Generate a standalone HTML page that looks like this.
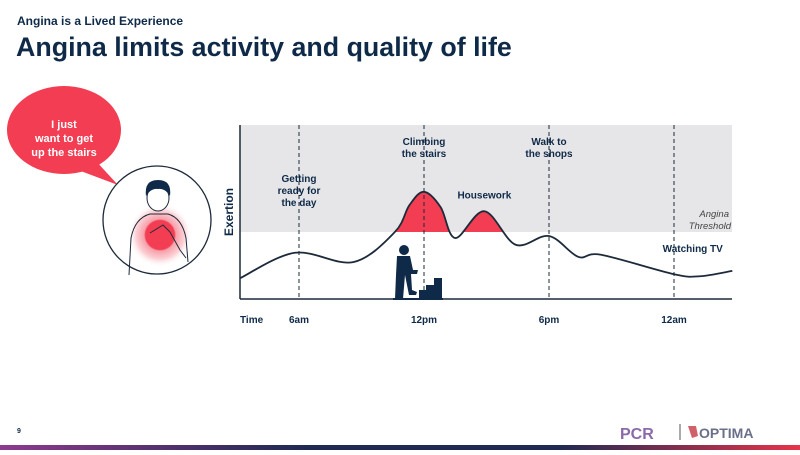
<!DOCTYPE html>
<html><head><meta charset="utf-8">
<style>
html,body{margin:0;padding:0;background:#fff;}
body{width:800px;height:450px;position:relative;overflow:hidden;font-family:"Liberation Sans",sans-serif;}
svg text{font-family:"Liberation Sans",sans-serif;}
</style></head>
<body>
<svg id="c" width="800" height="450" viewBox="0 0 800 450">
  <defs>
    <linearGradient id="bar" x1="0" x2="1" y1="0" y2="0">
      <stop offset="0" stop-color="#8e3a8e"/>
      <stop offset="0.38" stop-color="#1f2a52"/>
      <stop offset="0.7" stop-color="#1f2a52"/>
      <stop offset="1" stop-color="#e8334a"/>
    </linearGradient>
    <radialGradient id="glow">
      <stop offset="0" stop-color="#f23d52"/>
      <stop offset="0.45" stop-color="#f23d52"/>
      <stop offset="0.5" stop-color="#f7a0aa"/>
      <stop offset="0.75" stop-color="#fbd0d5"/>
      <stop offset="1" stop-color="#fff" stop-opacity="0"/>
    </radialGradient>
    <clipPath id="above"><rect x="240" y="125" width="492" height="107"/></clipPath>
  </defs>
  <text x="17" y="25" font-size="12" font-weight="bold" fill="#0f2a48">Angina is a Lived Experience</text>
  <text x="16" y="56" font-size="26.8" font-weight="bold" fill="#0f2a48">Angina limits activity and quality of life</text>

  <g>
    <ellipse cx="64" cy="130" rx="57" ry="44" fill="#f23d52"/>
    <path d="M95,160 L118,185 L78,170 Z" fill="#f23d52"/>
    <text x="64" y="128" font-size="11" font-weight="bold" fill="#fff" text-anchor="middle">I just</text>
    <text x="64" y="142" font-size="11" font-weight="bold" fill="#fff" text-anchor="middle">want to get</text>
    <text x="64" y="156" font-size="11" font-weight="bold" fill="#fff" text-anchor="middle">up the stairs</text>
  </g>
  <g>
    <circle cx="157" cy="220" r="54" fill="#fff" stroke="#1d2a3a" stroke-width="1.3"/>
    <circle cx="160" cy="235" r="32" fill="url(#glow)"/>
    <path d="M129,275 L131,238 Q135,218 150,214 L168,214 Q182,218 186,238 L188,262" fill="none" stroke="#1d2a3a" stroke-width="1"/>
    <ellipse cx="158" cy="198" rx="11" ry="13" fill="#fff" stroke="#1d2a3a" stroke-width="1"/>
    <path d="M146,196 Q144,180 158,180 Q172,180 170,196 Q165,188 158,189 Q151,188 146,196 Z" fill="#0f2a48"/>
    <path d="M150,233 L163,225 L170,232 L180,250 L186,258" fill="none" stroke="#1d2a3a" stroke-width="1"/>
  </g>

  <g id="chart">
    <rect x="240" y="125" width="492" height="107" fill="#e6e6e8"/>
    <g id="marks"></g>
    <line x1="240" y1="125" x2="240" y2="299" stroke="#1d2a3a" stroke-width="1.5"/>
    <line x1="240" y1="299" x2="732" y2="299" stroke="#1d2a3a" stroke-width="1.5"/>
    <text transform="translate(233,212) rotate(-90)" font-size="12" font-weight="bold" fill="#0f2a48" text-anchor="middle">Exertion</text>
    <text x="240" y="323" font-size="10" font-weight="bold" fill="#0f2a48">Time</text>
    <text x="729" y="217" font-size="9.5" font-style="italic" fill="#444" text-anchor="end">Angina</text>
    <text x="731" y="229" font-size="9.5" font-style="italic" fill="#444" text-anchor="end">Threshold</text>
    <g fill="#0f2a48">
      <circle cx="404" cy="250" r="5"/>
      <path d="M397,256 L410,256 L413,270 L418,270 L417,274 L411,274 L412,290 L417,292 L416,295 L409,295 L405,275 L403,299 L395,299 L396,275 Z"/>
      <path d="M413,299 L413,290 L420,290 L420,285 L428,285 L428,278 L436,278 L436,299 Z" transform="translate(6,0)"/>
      <rect x="393" y="298" width="50" height="2"/>
    </g>
  </g>

  <text x="17" y="433" font-size="7" font-weight="bold" fill="#0f2a48">9</text>
  <g>
    <text x="620" y="439" font-size="16" font-weight="bold" fill="#8a6aa8">PCR</text>
    <line x1="680" y1="424" x2="680" y2="440" stroke="#555" stroke-width="1"/>
    <path d="M688,426 L696,426 L698,436 L692,438 Z" fill="#d0606a"/>
    <text x="699" y="438" font-size="14" font-weight="bold" fill="#6a6f8a">OPTIMA</text>
  </g>
  <rect x="0" y="445" width="800" height="5" fill="url(#bar)"/>
</svg>
<script>
const hours = [3.17, 5.8, 8.6, 10.6, 11.3, 12, 12.8, 13.5, 14.9, 16.4, 18, 19.4, 20.5, 24, 25.25, 26.8];
const exertion = [3.1, 6.9, 5.5, 10, 14, 16.0, 13.7, 9.1, 13.1, 8.1, 9.4, 6.3, 6.6, 3.7, 3.4, 4.2];
const tickHours = [6, 12, 18, 24];
const tickLabels = ["6am", "12pm", "6pm", "12am"];
const activityLabels = [
  ["Getting|ready for|the day", 6, 17.5],
  ["Climbing|the stairs", 12, 23],
  ["Housework", 14.9, 15],
  ["Walk to|the shops", 18, 23],
  ["Watching TV", 23.7, 7.0]
];
const NS = "http://www.w3.org/2000/svg";
const xScale = h => 299 + (h - 6) * 125 / 6;
const yScale = e => 299 - e * 6.7;
const marks = document.getElementById('marks');
function mk(tag, attrs, parent) {
  const el = document.createElementNS(NS, tag);
  for (const k in attrs) el.setAttribute(k, attrs[k]);
  (parent || marks).appendChild(el);
  return el;
}
const pts = hours.map((h, i) => [xScale(h), yScale(exertion[i])]);
let d = "M" + pts[0][0] + "," + pts[0][1];
for (let i = 0; i < pts.length - 1; i++) {
  const p0 = pts[Math.max(0, i - 1)], p1 = pts[i], p2 = pts[i + 1], p3 = pts[Math.min(pts.length - 1, i + 2)];
  const c1 = [p1[0] + (p2[0] - p0[0]) / 6, p1[1] + (p2[1] - p0[1]) / 6];
  const c2 = [p2[0] - (p3[0] - p1[0]) / 6, p2[1] - (p3[1] - p1[1]) / 6];
  d += " C" + c1[0] + "," + c1[1] + " " + c2[0] + "," + c2[1] + " " + p2[0] + "," + p2[1];
}
const fillD = d + " L" + pts[pts.length - 1][0] + ",299 L" + pts[0][0] + ",299 Z";
const area = mk('path', {d: fillD, fill: '#f23d52', 'clip-path': 'url(#above)'});


tickHours.forEach((h, i) => {
  const ln = mk('line', {x1: xScale(h), x2: xScale(h), y1: 125, y2: 299, stroke: '#1d2a3a', 'stroke-width': 1, 'stroke-dasharray': '4,3'});
  
  
  const t = mk('text', {x: xScale(h), y: 323, 'font-size': 10, 'font-weight': 'bold', fill: '#0f2a48', 'text-anchor': 'middle'});
  t.textContent = tickLabels[i];
  
  
});
const line = mk('path', {d: d, fill: 'none', stroke: '#1d2a3a', 'stroke-width': 1.8});


activityLabels.forEach(a => {
  const lines = a[0].split('|');
  const y0 = yScale(a[2]);
  const t = mk('text', {x: xScale(a[1]) + (a[0] === 'Watching TV' ? 25 : 0), y: y0, 'font-size': 10, 'font-weight': 'bold', fill: '#0f2a48', 'text-anchor': 'middle'});
  
  
  lines.forEach((s, i) => {
    const ts = document.createElementNS(NS, 'tspan');
    ts.setAttribute('x', xScale(a[1]) + (a[0] === 'Watching TV' ? 25 : 0));
    ts.setAttribute('dy', i === 0 ? 0 : 12);
    ts.textContent = s;
    t.appendChild(ts);
  });
});
</script>
</body></html>
